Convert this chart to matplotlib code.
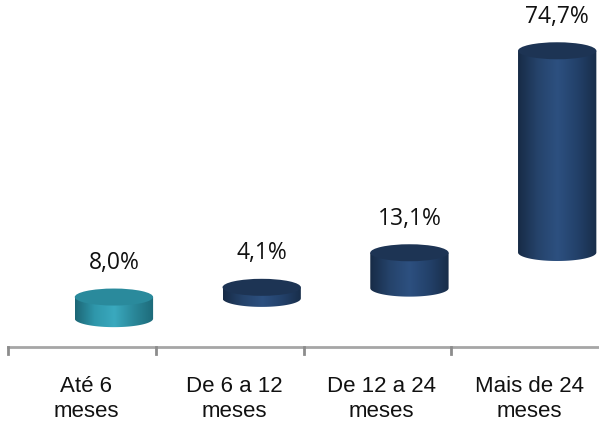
import numpy as np
import matplotlib
matplotlib.use("Agg")
import matplotlib.pyplot as plt
from matplotlib.path import Path
from matplotlib.patches import PathPatch, Ellipse
from matplotlib.colors import LinearSegmentedColormap

categories = ["Até 6\nmeses", "De 6 a 12\nmeses", "De 12 a 24\nmeses", "Mais de 24\nmeses"]
values = [8.0, 4.1, 13.1, 74.7]
labels = ["8,0%", "4,1%", "13,1%", "74,7%"]

# floating base of each cylinder (3D perspective placement)
bases = [10.5, 18.0, 21.8, 35.0]
depth_shift = 0.217
cyl_width = 0.53
cap_height = 6.3

teal = ["#1c6675", "#2f97ab", "#3aa9be", "#2a8799", "#1d6a79"]
navy = ["#172b46", "#25436b", "#2d5080", "#23416a", "#182d49"]
palettes = [teal, navy, navy, navy]
cap_colors = ["#2a8a9c", "#1d3454", "#1d3454", "#1d3454"]

fig = plt.figure(figsize=(5.99, 4.21), dpi=100)
ax = fig.add_axes([8 / 599, 74 / 421, 591 / 599, 347 / 421])
ax.set_xlim(-0.5, 3.5)
ax.set_ylim(0, 128.5)
ax.axis("off")

for i, (v, b) in enumerate(zip(values, bases)):
    cx = i + depth_shift
    x0, x1 = cx - cyl_width / 2, cx + cyl_width / 2
    top = b + v
    # body outline: left edge, bottom half-ellipse, right edge
    t = np.linspace(np.pi, 2 * np.pi, 60)
    arc_x = cx + (cyl_width / 2) * np.cos(t)
    arc_y = b + (cap_height / 2) * np.sin(t)
    verts = [(x0, top)] + list(zip(arc_x, arc_y)) + [(x1, top), (x0, top)]
    body = PathPatch(Path(verts, closed=True), facecolor="none", edgecolor="none")
    ax.add_patch(body)
    cmap = LinearSegmentedColormap.from_list(f"c{i}", palettes[i])
    grad = np.linspace(0, 1, 256).reshape(1, -1)
    im = ax.imshow(grad, cmap=cmap, aspect="auto",
                   extent=[x0, x1, b - cap_height, top], zorder=2)
    im.set_clip_path(body)
    cap = Ellipse((cx, top), cyl_width, cap_height, facecolor=cap_colors[i],
                  edgecolor="none", zorder=3)
    ax.add_patch(cap)
    ax.text(cx, top + cap_height / 2 + 5.0, labels[i], ha="center", va="bottom",
            fontsize=16.5, family="Open Sans", color="#111111")

# category axis with boundary ticks
ax.plot([-0.5, 3.5], [0, 0], color="#a6a6a6", lw=2, clip_on=False, zorder=1)
for xb in [-0.5, 0.5, 1.5, 2.5]:
    ax.plot([xb, xb], [0, -2.6], color="#8c8c8c", lw=2, clip_on=False)

for i, c in enumerate(categories):
    ax.text(i + 0.03, -10.8, c, ha="center", va="top", fontsize=16,
            family="Liberation Sans", linespacing=1.25, color="#111111",
            clip_on=False)

fig.savefig("out.png", dpi=100)
